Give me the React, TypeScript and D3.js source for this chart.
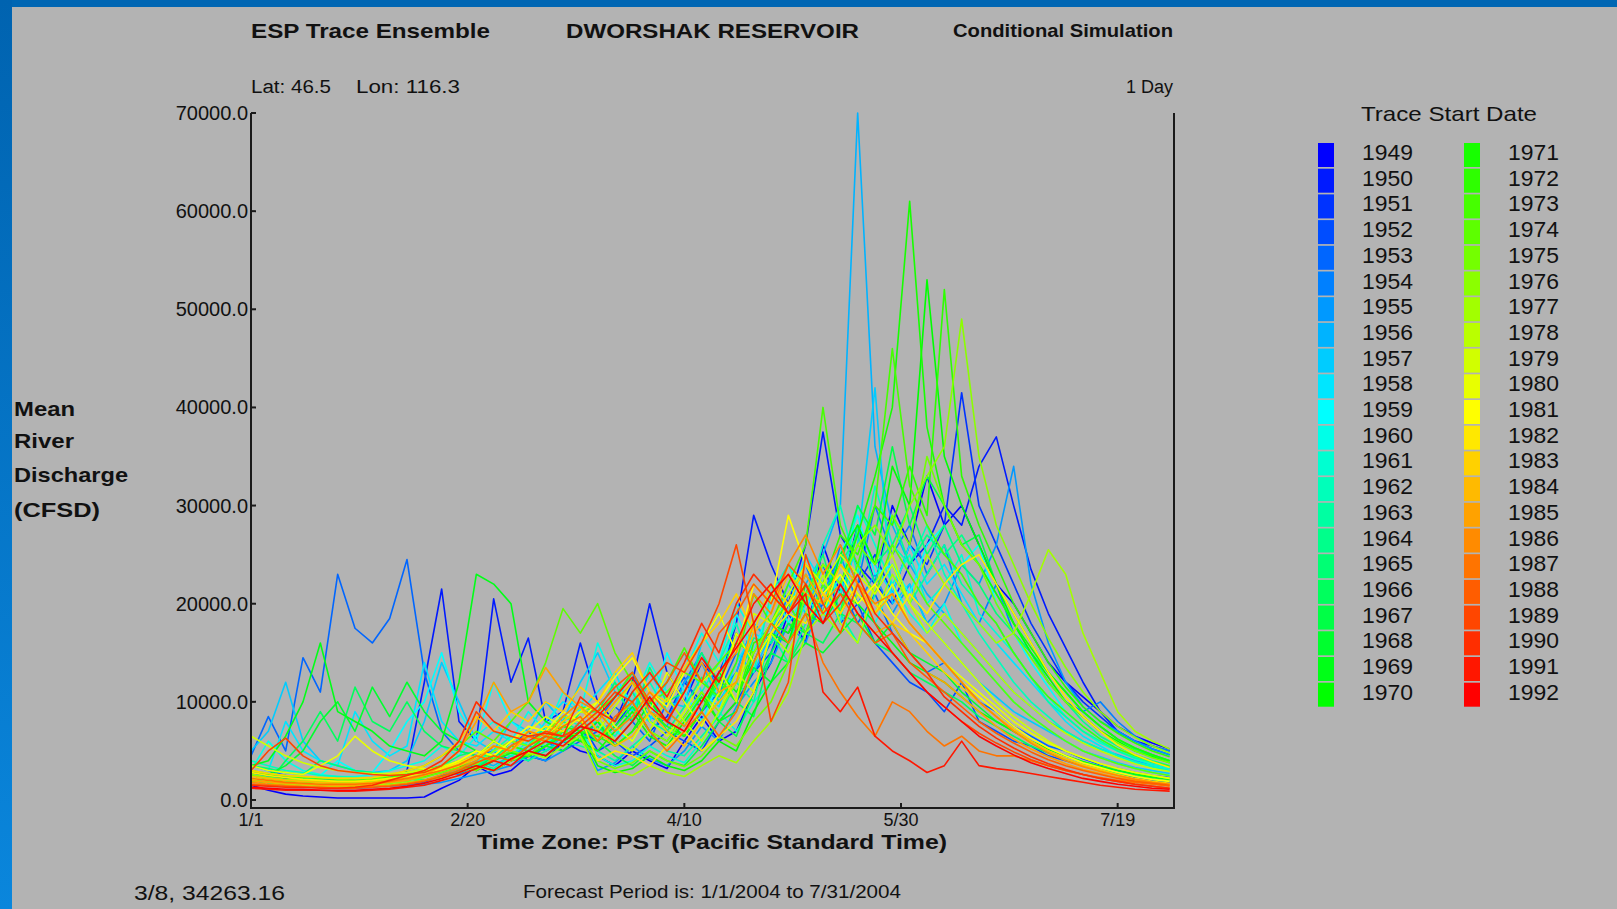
import React from 'react';
import * as d3 from 'd3';

const W = 1617;
const H = 909;

// sample days (day of year, 2004, 0 = 1/1), every 4 days
const SAMPLE_DAYS = [0,4,8,12,16,20,24,28,32,36,40,44,48,52,56,60,64,68,72,76,80,84,88,92,96,100,104,108,112,116,120,124,128,132,136,140,144,148,152,156,160,164,168,172,176,180,184,188,192,196,200,204,208,212];

const YEARS = [1949,1950,1951,1952,1953,1954,1955,1956,1957,1958,1959,1960,1961,1962,1963,1964,1965,1966,1967,1968,1969,1970,1971,1972,1973,1974,1975,1976,1977,1978,1979,1980,1981,1982,1983,1984,1985,1986,1987,1988,1989,1990,1991,1992];

const COLORS = ['#0000ff','#001aff','#0033ff','#004dff','#0066ff','#0080ff','#0099ff','#00b3ff','#00ccff','#00e6ff','#00ffff','#00ffe8','#00ffd1','#00ffba','#00ffa2','#00ff8b','#00ff74','#00ff5d','#00ff46','#00ff2e','#00ff17','#00ff00','#17ff00','#2eff00','#46ff00','#5dff00','#74ff00','#8bff00','#a2ff00','#baff00','#d1ff00','#e8ff00','#ffff00','#ffe800','#ffd100','#ffba00','#ffa200','#ff8b00','#ff7400','#ff5d00','#ff4600','#ff2e00','#ff1700','#ff0000'];

// values in thousands of CFSD
const T1949 = [1.5,1.0,0.6,0.4,0.3,0.2,0.2,0.2,0.2,0.2, 0.3,1.2,2.0,3.5,2.5,3.0,4.5,4.0,6.0,5.0, 4.5,3.5,5.0,4.0,3.2,6.0,8.5,6.0,7.0,11.0, 14.0,19.0,16.0,26.0,21.0,28.0,22.0,30.0,26.0,33.0, 28.0,30.0,26.0,22.0,20.0,17.0,14.0,12.0,10.5,9.0, 7.5,6.5,5.8,5.2];
const T1950 = [2.5,2.2,2.0,1.8,1.6,1.5,1.5,1.6,2.0,3.0, 12.0,21.5,8.0,6.0,20.5,12.0,16.5,8.0,9.0,16.0, 10.0,8.0,12.0,20.0,13.0,10.0,14.0,12.0,18.0,29.0, 24.0,20.0,26.0,37.5,27.0,24.0,22.0,20.0,24.0,26.0, 30.0,28.0,34.0,37.0,30.0,23.5,19.0,15.5,12.0,9.0, 7.0,6.0,5.5,5.0];
const T1951 = [3.0,2.5,2.2,2.0,1.8,1.7,1.6,1.8,2.5,2.2, 2.0,2.4,3.0,3.5,3.0,4.0,5.0,4.5,6.0,7.0, 6.0,7.5,10.0,7.0,8.5,12.0,10.0,13.0,17.0,14.0, 18.0,17.0,20.0,24.0,19.0,22.0,25.0,21.0,26.0,24.0, 28.0,41.5,30.0,26.0,22.0,18.0,15.0,12.0,10.0,8.5, 7.0,6.0,5.2,4.6];
const T1952 = [2.0,1.8,1.5,1.4,1.3,1.2,1.2,1.3,1.5,1.6, 1.8,2.5,3.5,3.0,4.0,5.5,7.0,5.0,6.0,8.0, 5.0,6.0,4.5,5.5,7.0,6.0,5.0,8.0,10.0,13.0, 15.0,20.0,17.0,22.0,18.0,20.0,16.0,14.0,12.0,11.0, 9.0,12.0,8.0,7.0,6.0,5.5,4.5,4.0,3.5,3.0, 2.6,2.3,2.0,1.8];
const T1953 = [4.5,8.5,5.0,14.5,11.0,23.0,17.5,16.0,18.5,24.5, 13.0,7.0,5.0,4.5,5.0,4.0,4.5,6.0,5.0,6.0, 7.0,9.5,8.0,6.0,10.0,12.5,9.0,11.0,15.0,13.0, 16.0,19.0,17.0,20.0,22.0,18.0,21.0,17.0,15.0,13.0, 14.0,12.0,10.0,9.0,7.5,6.5,5.5,5.0,4.2,3.6, 3.2,2.8,2.5,2.3];
const T1954 = [3.5,3.0,2.5,2.2,2.0,2.2,2.0,1.8,1.9,2.2, 2.5,3.0,2.6,3.5,4.0,5.0,4.0,5.5,7.0,6.0, 8.0,10.5,13.0,9.0,8.0,12.0,15.0,11.0,13.0,18.0, 16.0,21.0,24.0,19.0,26.0,22.0,30.0,25.0,28.0,23.0, 26.0,20.0,18.0,22.0,17.0,15.0,12.0,10.0,9.0,10.0, 8.0,6.5,5.5,5.0];
const T1955 = [2.8,2.4,2.0,1.8,1.6,1.5,1.5,1.4,1.4,1.5, 1.6,1.8,2.2,2.6,3.0,3.5,4.5,4.0,5.0,6.5, 3.0,3.8,5.5,4.2,3.5,5.0,7.5,6.0,9.5,12.0, 14.0,18.0,16.0,21.0,25.0,20.0,23.0,19.0,22.0,18.0, 20.0,24.0,22.0,26.0,34.0,22.0,16.0,12.0,9.5,8.0, 7.0,6.0,5.2,4.6];
const T1956 = [3.0,2.6,2.4,2.2,2.0,1.9,1.8,2.0,2.2,2.0, 2.4,2.8,3.2,4.0,3.5,4.5,5.5,5.0,6.5,7.5, 7.0,8.0,11.0,8.5,7.5,12.0,14.0,10.0,13.0,18.0, 16.0,19.0,22.0,25.0,30.0,70.0,36.0,28.0,24.0,21.0, 19.0,17.0,15.0,13.0,11.0,9.5,8.0,7.0,6.0,5.2, 4.6,4.0,3.6,3.2];
const T1957 = [5.0,7.0,12.0,6.0,4.0,3.5,3.0,2.8,3.0,4.0, 8.0,14.0,10.0,6.0,5.0,8.0,7.0,10.0,8.0,12.0, 15.0,11.0,9.0,13.0,10.0,9.5,16.0,19.0,15.0,13.0, 17.0,22.0,19.0,24.0,21.0,26.0,42.0,20.0,22.0,18.0, 16.0,14.0,12.0,10.5,9.0,8.0,7.0,6.0,5.0,4.4, 3.8,3.3,3.0,2.7];
const T1958 = [3.5,3.0,8.0,5.0,4.0,3.5,9.0,6.0,4.5,5.5, 14.0,8.0,6.0,5.5,7.0,6.0,5.5,8.0,10.0,9.0, 11.0,13.0,9.0,8.0,12.0,15.0,11.0,9.5,14.0,17.0, 16.0,19.0,25.0,22.0,18.0,28.0,24.0,21.0,26.0,22.0, 24.0,21.0,18.0,16.0,14.0,12.0,10.0,8.0,6.5,5.5, 4.5,3.8,3.4,3.0];
const T1959 = [2.5,2.2,2.0,1.9,2.5,4.0,3.0,2.8,5.0,8.0, 10.0,15.0,9.0,6.0,12.0,8.0,6.5,7.0,9.0,8.0, 10.0,7.0,6.0,9.0,15.0,11.0,8.0,12.0,19.0,15.0, 20.0,24.0,21.0,18.0,25.0,29.0,23.0,24.0,21.0,26.0, 28.0,24.0,26.0,20.0,17.0,14.0,11.5,9.0,7.5,6.2, 5.2,4.4,3.8,3.4];
const T1960 = [3.0,6.0,4.0,3.0,2.6,2.4,2.4,2.6,3.0,3.5, 4.0,5.5,4.5,6.5,8.0,6.0,9.0,7.0,11.0,9.0, 16.0,12.0,10.0,14.0,11.0,13.0,17.0,14.0,20.0,17.0, 22.0,18.0,21.0,19.0,23.0,20.0,18.0,22.0,19.0,17.0, 20.0,16.0,14.0,12.0,10.0,8.5,7.2,6.0,5.0,4.3, 3.7,3.2,2.8,2.5];
const T1961 = [2.0,1.8,1.6,1.5,1.4,1.4,1.5,1.6,1.8,2.0, 2.5,3.0,2.8,4.0,5.0,4.5,6.0,5.5,7.5,7.0, 4.5,3.5,4.0,5.5,4.5,3.8,6.0,9.0,7.0,10.0, 12.0,16.0,20.0,24.0,21.0,30.0,26.0,22.0,25.0,20.0, 22.0,25.0,19.0,17.0,15.0,12.5,10.5,8.5,7.0,5.8, 5.0,4.2,3.6,3.2];
const T1962 = [4.0,3.5,3.0,2.8,2.5,2.4,2.3,2.3,2.5,2.8, 3.0,3.5,4.0,3.6,5.0,6.5,5.5,7.0,8.5,7.5, 8.0,6.5,9.0,12.0,9.0,7.5,11.0,14.0,18.0,13.0, 21.0,24.0,20.0,26.0,30.0,23.0,32.0,26.0,24.0,28.0, 23.0,20.0,17.0,14.5,12.0,10.0,8.5,7.0,6.0,5.2, 4.5,3.9,3.4,3.0];
const T1963 = [2.5,2.2,2.0,1.9,1.8,1.8,1.7,1.8,2.0,2.2, 2.0,2.4,3.0,3.8,3.2,4.5,4.0,5.0,6.0,5.5, 5.0,4.0,5.5,7.0,5.0,4.5,6.5,8.5,12.0,10.0, 17.0,14.0,18.0,22.0,19.0,16.0,21.0,24.0,20.0,23.0, 26.0,22.0,20.0,18.0,15.0,12.5,10.0,8.5,7.0,6.0, 5.0,4.3,3.8,3.4];
const T1964 = [3.0,2.6,2.4,2.2,2.0,1.9,1.9,2.0,2.2,2.4, 2.8,3.2,4.0,3.5,4.5,5.5,5.0,6.5,8.0,7.0, 6.5,8.0,11.0,8.0,7.0,9.5,12.5,10.0,12.0,16.5, 16.0,19.0,23.0,20.0,24.0,27.0,22.0,29.0,24.0,27.0, 25.0,27.0,24.0,21.0,18.0,15.0,12.0,10.0,8.0,6.5, 5.5,4.6,4.0,3.5];
const T1965 = [3.5,3.2,2.8,2.6,4.0,3.5,3.0,2.8,2.6,2.6, 3.0,3.5,4.5,5.0,4.2,6.0,5.5,7.5,6.5,9.0, 9.0,12.0,8.0,13.5,10.0,11.0,15.0,12.0,17.0,14.0, 18.0,16.0,21.0,25.0,19.0,28.0,24.0,26.0,30.0,25.0, 28.0,24.0,22.0,19.0,17.0,15.0,13.0,11.0,9.0,7.5, 6.2,5.2,4.5,4.0];
const T1966 = [2.0,1.8,4.0,6.0,9.0,6.0,11.5,8.0,7.0,10.0, 7.0,5.5,5.0,4.5,6.0,5.0,4.5,5.5,7.0,6.0, 7.5,6.0,8.0,10.5,7.0,6.5,9.0,12.0,10.0,8.5, 15.0,14.0,17.0,16.0,19.0,18.0,16.0,15.0,13.0,12.0, 11.0,10.0,8.5,7.5,6.5,5.5,4.8,4.2,3.6,3.1, 2.7,2.4,2.1,1.9];
const T1967 = [2.5,2.2,2.0,1.8,1.7,1.6,1.6,1.7,1.9,2.1, 2.5,3.0,3.5,3.2,4.5,4.0,5.5,6.5,6.0,7.5, 6.0,4.5,3.5,5.0,4.0,3.5,5.5,8.0,6.5,11.0, 15.0,18.0,17.0,21.0,24.0,30.0,27.0,36.0,28.0,33.0, 30.0,26.0,27.0,22.0,19.0,16.0,13.0,11.0,9.0,7.5, 6.2,5.3,4.6,4.0];
const T1968 = [3.0,2.6,3.5,5.0,8.0,10.0,7.0,11.5,8.5,12.0, 9.0,7.0,6.0,5.0,4.5,4.0,4.5,5.5,5.0,6.5, 6.0,7.5,9.5,7.0,6.0,8.5,11.0,8.0,9.0,13.5, 12.0,14.0,16.0,15.0,17.0,19.0,16.0,18.0,15.0,14.0, 13.0,11.0,9.5,8.0,7.0,6.0,5.2,4.5,3.9,3.4, 3.0,2.7,2.4,2.2];
const T1969 = [3.5,4.0,6.5,10.0,16.0,9.0,8.0,7.0,5.5,5.0, 4.5,6.0,12.0,23.0,22.0,20.0,10.0,8.0,7.0,6.5, 8.0,5.5,7.0,10.0,8.0,6.5,9.0,13.0,11.0,14.0, 17.0,16.0,19.0,18.0,21.0,20.0,18.0,16.0,14.0,13.0, 12.0,10.5,9.0,8.0,7.0,6.0,5.2,4.5,3.9,3.4, 3.0,2.6,2.3,2.1];
const T1970 = [2.0,1.8,1.6,1.5,1.5,1.4,1.4,1.5,1.6,1.8, 2.0,2.4,2.8,3.5,3.0,4.0,5.0,4.5,6.0,7.0, 3.5,2.8,3.2,4.5,3.5,3.0,4.0,6.0,5.0,9.0, 12.0,16.0,22.0,19.0,25.0,28.0,24.0,34.0,30.0,53.0, 35.0,30.0,26.0,22.0,18.0,15.0,12.5,10.0,8.5,7.0, 6.0,5.0,4.4,3.8];
const T1971 = [2.5,2.2,2.0,1.9,1.8,1.7,1.7,1.8,2.0,2.2, 2.4,2.8,3.5,3.0,4.0,4.8,4.4,5.5,6.5,6.0, 5.0,7.0,9.0,6.5,5.5,8.0,10.5,8.0,10.0,15.0, 18.0,17.0,21.0,24.0,22.0,27.0,33.0,40.0,61.0,38.0, 30.0,26.0,24.0,21.0,18.0,15.5,13.0,11.0,9.0,7.5, 6.2,5.3,4.6,4.0];
const T1972 = [2.8,2.5,2.3,2.1,2.0,1.9,1.9,2.0,2.2,2.5, 2.8,3.2,3.8,4.5,4.0,5.5,5.0,6.5,7.5,7.0, 6.5,5.5,7.0,9.0,7.5,6.5,9.0,12.5,10.0,16.0, 17.0,20.0,24.0,22.0,27.0,25.0,30.0,28.0,34.0,29.0, 52.0,33.0,28.0,24.0,20.0,17.0,14.0,11.5,9.5,8.0, 6.8,5.8,5.0,4.4];
const T1973 = [3.0,2.7,2.5,2.3,2.2,2.1,2.0,2.1,2.3,2.6, 3.0,3.5,3.2,4.5,5.5,5.0,6.5,6.0,8.0,9.5, 9.0,10.5,13.0,10.0,12.0,15.5,12.0,10.5,14.0,21.0, 18.0,22.0,26.0,40.0,28.0,24.0,30.0,46.0,32.0,28.0, 25.0,23.0,20.0,18.0,15.0,12.5,10.5,9.0,7.5,6.2, 5.2,4.5,3.9,3.4];
const T1974 = [2.5,2.2,2.0,1.9,1.8,1.8,1.9,2.1,2.5,3.0, 3.5,4.5,5.5,7.0,6.0,8.0,10.0,14.0,19.5,17.0, 20.0,15.0,12.0,10.0,11.0,13.0,12.0,14.0,16.0,15.0, 18.0,20.0,17.0,22.0,19.0,24.0,21.0,26.0,23.0,20.0, 18.0,16.0,14.0,12.0,10.0,8.5,7.2,6.0,5.0,4.3, 3.7,3.2,2.8,2.5];
const T1975 = [2.2,2.0,1.8,1.7,1.6,1.5,1.5,1.6,1.8,2.0, 2.3,2.8,3.3,3.0,4.2,5.0,4.5,6.0,7.0,6.5, 4.0,3.2,3.8,5.0,4.0,3.4,4.5,6.5,5.5,8.0, 10.0,14.0,21.0,24.0,22.0,26.0,24.0,29.0,26.0,35.0, 30.0,26.0,24.0,20.0,17.0,14.5,12.0,10.0,8.5,7.0, 5.8,5.0,4.3,3.8];
const T1976 = [2.6,2.3,2.1,2.0,1.9,1.8,1.8,1.9,2.1,2.4, 2.8,3.2,4.0,3.6,5.0,6.0,5.5,7.0,8.5,8.0, 6.0,8.0,10.0,7.0,6.0,8.5,11.0,9.0,12.0,15.0, 18.0,21.0,20.0,24.0,22.0,26.0,28.0,25.0,30.0,33.0, 36.0,49.0,35.0,28.0,24.0,20.0,16.5,13.5,11.0,9.0, 7.5,6.4,5.5,4.8];
const T1977 = [2.0,1.8,1.6,1.5,1.4,1.4,1.4,1.5,1.6,1.8, 2.0,2.3,2.8,3.4,3.0,4.0,4.8,4.3,5.5,6.5, 2.6,3.0,2.5,3.5,2.8,2.4,3.5,4.5,3.8,6.0, 8.0,11.0,17.0,19.0,17.0,21.0,19.0,23.0,20.0,25.0, 22.0,20.0,18.0,16.0,17.0,21.0,25.5,23.0,17.0,13.0, 9.0,7.0,6.0,5.2];
const T1978 = [3.0,2.7,2.5,2.4,2.3,2.2,2.2,2.3,2.5,2.8, 3.2,3.0,3.8,4.5,4.0,5.5,6.5,6.0,7.5,9.0, 8.5,6.0,5.0,7.0,10.5,8.0,6.0,9.0,13.0,11.0, 17.0,15.0,19.0,23.0,18.0,16.0,22.0,25.0,20.0,17.0, 19.0,17.0,15.0,13.0,11.0,9.5,8.0,6.8,5.8,5.0, 4.3,3.7,3.2,2.9];
const T1979 = [6.5,5.5,4.5,3.8,3.3,3.0,2.8,2.7,2.7,2.8, 3.0,3.4,4.0,5.0,4.5,6.0,7.0,6.5,8.0,9.5, 7.0,9.5,12.0,8.0,6.5,9.0,12.0,13.5,10.0,19.0, 18.0,21.0,24.0,22.0,25.0,23.0,21.0,24.0,20.0,18.0, 16.0,14.0,12.0,10.0,8.5,7.2,6.0,5.0,4.3,3.7, 3.2,2.8,2.5,2.2];
const T1980 = [3.5,3.0,2.8,2.6,3.5,4.5,6.5,5.0,4.0,3.5, 3.2,3.0,3.5,4.5,6.0,5.0,7.0,8.5,7.5,9.0, 10.0,7.5,6.0,9.0,13.0,10.0,7.5,11.0,17.0,14.0, 17.0,20.0,22.0,19.0,24.0,21.0,19.0,22.0,18.0,16.0, 14.0,12.5,11.0,9.5,8.0,6.8,5.8,5.0,4.3,3.7, 3.2,2.8,2.5,2.2];
const T1981 = [2.2,2.0,1.8,1.7,1.6,1.6,1.6,1.7,1.9,2.2, 2.6,3.2,4.0,5.0,4.5,6.0,7.5,7.0,9.0,8.0, 10.0,12.5,14.5,11.0,9.5,13.0,16.0,19.0,15.0,22.0, 20.0,29.0,24.0,21.0,23.0,20.0,22.0,19.0,17.0,16.0, 14.0,12.0,10.5,9.0,7.5,6.3,5.3,4.5,3.8,3.3, 2.8,2.4,2.1,1.9];
const T1982 = [2.8,2.5,2.3,2.1,2.0,1.9,1.9,2.0,2.2,2.4, 2.8,3.2,3.8,4.5,5.5,5.0,6.5,7.5,7.0,8.5, 4.0,5.0,4.5,3.5,5.5,7.0,5.0,6.5,8.0,11.0, 17.0,19.0,18.0,21.0,19.0,22.0,20.0,18.0,21.0,19.0, 22.0,24.0,25.0,22.0,19.0,16.0,13.0,10.5,8.5,7.0, 5.6,4.6,3.9,3.3];
const T1983 = [3.0,2.7,2.5,2.4,2.3,2.2,2.2,2.3,2.6,3.0, 3.5,4.5,6.0,8.5,7.0,9.0,8.0,10.0,9.0,11.5, 10.0,13.0,15.0,11.0,10.0,13.5,16.0,18.0,21.0,17.0, 22.0,20.0,24.0,21.0,19.0,22.0,20.0,18.0,17.0,15.0, 13.0,11.5,10.0,8.5,7.2,6.0,5.0,4.2,3.6,3.1, 2.6,2.2,1.9,1.7];
const T1984 = [2.4,2.2,2.0,1.9,1.8,1.7,1.7,1.8,2.0,2.2, 2.5,3.0,3.5,4.2,5.5,5.0,6.5,6.0,8.0,9.5, 7.0,5.5,6.5,9.0,7.0,5.5,8.0,10.0,12.0,17.0, 19.0,23.0,21.0,20.0,24.0,22.0,19.0,21.0,18.0,16.0, 14.0,12.0,10.0,8.5,7.2,6.0,5.0,4.2,3.5,3.0, 2.5,2.1,1.8,1.6];
const T1985 = [2.0,1.8,1.7,1.6,1.5,1.5,1.5,1.6,1.8,2.0, 2.5,3.5,5.0,8.0,12.0,9.0,10.0,13.5,11.0,9.5, 8.0,10.0,12.0,9.0,8.0,11.0,14.0,11.0,12.0,18.0, 21.0,19.0,23.0,20.0,22.0,19.0,17.0,18.0,15.0,13.0, 12.0,10.5,9.0,7.5,6.2,5.2,4.4,3.7,3.1,2.7, 2.3,2.0,1.7,1.5];
const T1986 = [1.8,1.6,1.5,1.4,1.3,1.3,1.3,1.4,1.5,1.7, 2.0,2.6,3.2,4.0,5.5,5.0,7.0,6.5,8.5,10.0, 9.0,7.0,8.5,11.0,9.0,7.5,10.0,13.0,15.0,21.0, 19.0,24.0,27.0,23.0,26.0,22.0,20.0,21.0,18.0,16.0, 14.0,12.0,10.0,8.5,7.0,5.8,4.8,4.0,3.4,2.9, 2.5,2.1,1.8,1.6];
const T1987 = [2.2,2.0,1.8,1.7,1.6,1.6,1.6,1.7,1.9,2.2, 2.6,3.0,3.6,4.5,4.0,5.5,6.5,6.0,7.5,8.5, 6.0,8.5,10.0,7.0,5.0,7.0,9.0,6.5,9.0,14.0, 18.0,16.0,19.0,14.0,11.0,8.5,6.5,10.0,9.0,7.0, 5.5,6.5,5.0,4.5,4.5,4.0,3.5,3.0,2.6,2.3, 2.0,1.8,1.6,1.4];
const T1988 = [1.6,1.5,1.4,1.3,1.3,1.2,1.2,1.3,1.4,1.6, 1.9,2.4,3.0,3.8,4.5,4.0,5.5,6.5,6.0,8.0, 9.5,11.5,13.0,10.0,12.0,15.0,12.0,17.0,19.0,22.0, 20.0,24.0,22.0,19.0,21.0,18.0,16.0,17.0,14.0,12.5, 11.0,9.5,8.0,6.8,5.8,4.9,4.1,3.5,3.0,2.6, 2.2,1.9,1.7,1.5];
const T1989 = [3.0,5.0,6.3,4.5,3.5,3.0,2.8,2.6,2.5,2.6, 2.8,3.5,5.0,9.0,7.0,6.5,6.0,7.0,6.5,7.5, 9.0,11.0,10.0,12.0,14.0,13.0,16.0,20.0,26.0,18.0, 8.0,12.0,25.0,20.0,17.0,22.0,18.0,15.0,13.0,11.0, 9.5,8.0,6.8,5.8,4.9,4.1,3.5,3.0,2.6,2.2, 1.9,1.6,1.4,1.2];
const T1990 = [1.5,1.4,1.3,1.3,1.2,1.2,1.3,1.5,2.0,2.5, 3.0,4.0,6.0,10.0,8.0,7.0,6.5,6.8,6.5,10.5, 9.0,8.0,11.0,13.0,10.5,14.0,18.0,15.0,20.0,23.0, 21.0,19.0,22.0,18.0,20.0,23.0,19.0,17.0,15.0,13.0, 10.5,9.0,7.5,6.3,5.3,4.4,3.7,3.1,2.6,2.2, 1.9,1.6,1.4,1.2];
const T1991 = [1.2,1.1,1.0,1.0,1.0,0.9,0.9,1.0,1.1,1.3, 1.5,2.0,2.5,3.2,4.0,3.5,5.0,6.0,5.5,7.0, 8.5,10.5,12.5,9.5,8.0,11.0,14.5,12.0,16.0,20.0, 22.0,19.0,21.0,11.0,9.0,11.5,6.5,5.0,4.0,2.8, 3.5,6.0,3.5,3.2,3.0,2.7,2.4,2.1,1.8,1.5, 1.3,1.1,1.0,0.9];
const T1992 = [1.3,1.2,1.1,1.1,1.0,1.0,1.0,1.1,1.2,1.4, 1.7,2.2,2.8,3.5,3.0,4.2,5.0,4.5,6.0,7.5, 7.0,6.0,8.0,10.5,8.0,7.0,10.0,13.0,15.5,18.0, 21.0,23.0,20.0,18.0,22.0,19.0,17.0,15.0,13.0,11.0, 9.5,8.0,6.5,5.5,4.6,3.8,3.2,2.7,2.2,1.9, 1.6,1.4,1.2,1.1];

const TRACES = [T1949,T1950,T1951,T1952,T1953,T1954,T1955,T1956,T1957,T1958,T1959,T1960,T1961,T1962,T1963,T1964,T1965,T1966,T1967,T1968,T1969,T1970,T1971,T1972,T1973,T1974,T1975,T1976,T1977,T1978,T1979,T1980,T1981,T1982,T1983,T1984,T1985,T1986,T1987,T1988,T1989,T1990,T1991,T1992];

const X_TICKS = [0, 50, 100, 150, 200];
const X_TICK_LABELS = ['1/1', '2/20', '4/10', '5/30', '7/19'];
const Y_TICKS = [0, 10000, 20000, 30000, 40000, 50000, 60000, 70000];
const Y_LABEL_LINES = ['Mean', 'River', 'Discharge', '(CFSD)'];

const SANS = "'Liberation Sans', Arial, Helvetica, sans-serif";
const NARROW = "'Liberation Sans Narrow', 'Liberation Sans', Arial, sans-serif";
const FIT = 'spacingAndGlyphs';

export default function App() {
  const left = 251, right = 1174, top = 113, zeroY = 800, axisY = 808;
  const x = d3.scaleLinear().domain([0, 213]).range([left, right]);
  const y = d3.scaleLinear().domain([0, 70000]).range([zeroY, top]);
  const line = d3
    .line<number>()
    .x((_, i) => x(SAMPLE_DAYS[i]))
    .y((v) => y(v * 1000));

  const rowH = 25.7;
  const half = 22;

  return (
    <svg width={W} height={H} style={{ position: 'absolute', left: 0, top: 0, display: 'block' }}>
      <defs>
        <linearGradient id="sideGrad" x1="0" y1="0" x2="0" y2="1">
          <stop offset="0" stopColor="#0063b0" />
          <stop offset="1" stopColor="#0a86dc" />
        </linearGradient>
        <clipPath id="plotClip">
          <rect x={left} y={top - 2} width={right - left} height={axisY - top + 1} />
        </clipPath>
      </defs>
      <rect x={0} y={0} width={W} height={H} fill="#b3b3b3" />
      <rect x={0} y={0} width={W} height={7} fill="#0066b3" />
      <rect x={0} y={0} width={12} height={H} fill="url(#sideGrad)" />

      {/* header */}
      <text x={251} y={38} fontFamily={SANS} fontWeight="bold" fontSize={21} fill="#111" textLength={239} lengthAdjust={FIT}>ESP Trace Ensemble</text>
      <text x={566} y={38} fontFamily={SANS} fontWeight="bold" fontSize={21} fill="#111" textLength={293} lengthAdjust={FIT}>DWORSHAK RESERVOIR</text>
      <text x={953} y={37} fontFamily={NARROW} fontWeight="bold" fontSize={19} fill="#111" textLength={220} lengthAdjust={FIT}>Conditional Simulation</text>
      <text x={251} y={93} fontFamily={SANS} fontSize={18} fill="#111" textLength={80} lengthAdjust={FIT}>Lat: 46.5</text>
      <text x={356} y={93} fontFamily={SANS} fontSize={18} fill="#111" textLength={104} lengthAdjust={FIT}>Lon:  116.3</text>
      <text x={1173} y={93} fontFamily={SANS} fontSize={18} fill="#111" textAnchor="end">1 Day</text>

      {/* y label */}
      {Y_LABEL_LINES.map((t, i) => (
        <text key={t} x={14} y={[416, 448, 482, 517][i]} fontFamily={SANS} fontWeight="bold" fontSize={21} fill="#111"
          textLength={[61, 60, 114, 86][i]} lengthAdjust={FIT}>{t}</text>
      ))}

      {/* traces */}
      <g clipPath="url(#plotClip)" fill="none" strokeWidth={1.6} strokeLinejoin="round">
        {TRACES.map((tr, i) => (
          <path key={YEARS[i]} d={line(tr.slice(0, SAMPLE_DAYS.length)) || ''} stroke={COLORS[i]} />
        ))}
      </g>

      {/* axes */}
      <g stroke="#1a1a1a" strokeWidth={2} fill="none">
        <line x1={left} y1={top} x2={left} y2={axisY + 1} />
        <line x1={right} y1={top} x2={right} y2={axisY + 1} />
        <line x1={left} y1={axisY} x2={right} y2={axisY} />
        {Y_TICKS.map((t) => (
          <line key={t} x1={left} y1={y(t)} x2={left + 5} y2={y(t)} />
        ))}
        {X_TICKS.map((t) => (
          <line key={t} x1={x(t)} y1={axisY} x2={x(t)} y2={axisY - 5} />
        ))}
      </g>
      {Y_TICKS.map((t) => (
        <text key={t} x={248} y={y(t) + 7} fontFamily={SANS} fontSize={20} fill="#111" textAnchor="end">
          {t.toFixed(1)}
        </text>
      ))}
      {X_TICKS.map((t, i) => (
        <text key={t} x={x(t)} y={826} fontFamily={SANS} fontSize={18} fill="#111" textAnchor="middle">
          {X_TICK_LABELS[i]}
        </text>
      ))}
      <text x={712} y={849} fontFamily={NARROW} fontWeight="bold" fontSize={21} fill="#111" textAnchor="middle" textLength={470} lengthAdjust={FIT}>
        Time Zone: PST (Pacific Standard Time)
      </text>
      <text x={134} y={900} fontFamily={SANS} fontSize={20} fill="#111" textLength={151} lengthAdjust={FIT}>3/8, 34263.16</text>
      <text x={523} y={898} fontFamily={NARROW} fontSize={19} fill="#111" textLength={378} lengthAdjust={FIT}>Forecast Period is: 1/1/2004 to 7/31/2004</text>

      {/* legend */}
      <text x={1361} y={121} fontFamily={SANS} fontSize={21} fill="#111" textLength={176} lengthAdjust={FIT}>Trace Start Date</text>
      {YEARS.map((yr, i) => {
        const col = i < half ? 0 : 1;
        const row = i % half;
        const sx = col === 0 ? 1318 : 1464;
        const tx = col === 0 ? 1362 : 1508;
        const ty = 143 + row * rowH;
        return (
          <g key={yr}>
            <rect x={sx} y={ty} width={16} height={24} fill={COLORS[i]} />
            <text x={tx} y={ty + 17} fontFamily={SANS} fontSize={22} fill="#111" textLength={51} lengthAdjust={FIT}>{yr}</text>
          </g>
        );
      })}
    </svg>
  );
}
